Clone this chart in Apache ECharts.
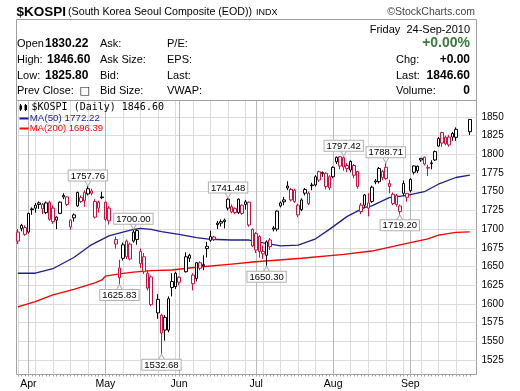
<!DOCTYPE html>
<html><head><meta charset="utf-8">
<script src="https://cdn.jsdelivr.net/npm/echarts@6/dist/echarts.min.js"></script>
<style>html,body{margin:0;padding:0;background:#fff}#c{width:520px;height:391px}</style>
</head><body><div id="c"></div>
<script>
// ---- data ----
const year = 2010;
const dates = ['03-29','03-30','03-31','04-01','04-02','04-05','04-06','04-07','04-08','04-09',
'04-12','04-13','04-14','04-15','04-16','04-19','04-20','04-21','04-22','04-23',
'04-26','04-27','04-28','04-29','04-30','05-03','05-04','05-05','05-06','05-07',
'05-10','05-11','05-12','05-13','05-14','05-17','05-18','05-19','05-20','05-21',
'05-24','05-25','05-26','05-27','05-28','05-31','06-01','06-02','06-03','06-04',
'06-07','06-08','06-09','06-10','06-11','06-14','06-15','06-16','06-17','06-18',
'06-21','06-22','06-23','06-24','06-25','06-28','06-29','06-30','07-01','07-02',
'07-05','07-06','07-07','07-08','07-09','07-12','07-13','07-14','07-15','07-16',
'07-19','07-20','07-21','07-22','07-23','07-26','07-27','07-28','07-29','07-30',
'08-02','08-03','08-04','08-05','08-06','08-09','08-10','08-11','08-12','08-13',
'08-16','08-17','08-18','08-19','08-20','08-23','08-24','08-25','08-26','08-27',
'08-30','08-31','09-01','09-02','09-03','09-06','09-07','09-08','09-09','09-10',
'09-13','09-14','09-15','09-16','09-17','09-20','09-21','09-22','09-23','09-24'];
const prevClose0 = 1700;
const opens = [1684,1705,1702,1696,1726,1728,1735,1733,1722,1736,
1728,1716,1721,1745,1743,1712,1715,1731,1737,1749,
1747,1751,1716,1736,1742,1736,1728,null,1680,1635,
1661,1684,1680,1684,1686,1670,1663,1621,1636,null,
1588,1585,1565,1565,1630,1623,1635.5,null,1643,1661,
1627,1634,1655,1651,1677,1685,1686,1708,1710,1710,
1728,1723,1722,1722,1721,1736.5,1736,1677.5,1694,1690,
1670,1665,1685.5,1700,1700,1731,1739,1755,1753,1752,
1719,1726,1753,1748,1758,1759,1776.7,1774.5,1774.6,1770,
1770,1796,1796.8,1795.5,1785,1779,1785,1777,1732,1732,
1735,1737,1763,1763.4,1777,1782.5,1757,1746.5,1745,1723.3,
1747.8,1747.8,1751.4,1784.4,1784,1794.6,1796,1782.5,1787.5,1792.4,
1811,1829,1823,1823,1823,1822.7,null,null,null,1830.22];
const highs = [1700,1707,1705,1722,1729,1735,1737,1735,1737,1738,
1732,1717,1737,1748,1744,1713,1721,1750,1745,1752,
1757.76,1754,1740,1738,1750,1737,1731,null,1690,1659,
1682,1686,1682,1700.00,1699.5,1674,1668,1645,1638,null,
1613,1587,1585,1610,1641,1643,1637,null,1669,1667,
1641,1656,1657,1665,1683,1698,1691,1711,1713,1714,
1741.48,1733,1729,1741,1733,1739,1737,1701,1696,1692,
1678,1685,1688,1704,1725,1737,1743,1764,1755,1754,
1734,1741,1755,1750,1762,1772,1778,1777,1776,1772,
1784,1797,1797,1797.42,1788,1792,1787,1778,1735,1747,
1748,1758,1767,1783,1779,1788.71,1766,1749,1747,1733,
1765,1748,1768,1785,1785,1795,1797,1786,1792,1805,
1823,1830,1825,1826,1830,1836,null,null,null,1846.60];
const lows = [1680,1697,1691,1694,1719,1722,1727,1720,1720,1711,
1707,1700,1720,1740,1731,1699,1710,1730,1735,1730,
1745,1745,1714,1722,1740,1711,1706,null,1674,1625.83,
1658,1660,1658,1682,1679,1648,1640,1618,1597,null,
1580,1532.68,1551,1562,1610,1620,1625,null,1642,1656,
1618,1630,1645,1645,1662,1683,1684,1700,1703.5,1701,
1725,1721,1720,1720,1719,1726,1703,1676,1668,1662,
1660,1650.30,1672,1697,1697,1729,1732,1752,1737,1735,
1716,1724,1745,1732,1752,1757,1763,1770,1753,1752,
1768,1787,1780,1778,1776,1776,1768,1754,1720,1728,
1717,1735,1760,1761,1765,1766,1748,1732,1730,1719.20,
1745,1736.6,1749,1773,1775,1790,1785,1771,1780,1791,
1810,1810,1812,1810,1818,1818,null,null,null,1825.80];
const closes = [1696,1701,1693,1721,1727,1732,1733,1727,1735,1713,
1710,1712,1736,1743,1733,1703,1719,1749,1742,1738,
1754,1748,1737,1728,1743,1713,1711,null,1686,1648,
1679,1663,1660,1696,1698,1654,1643,1641,1599,null,
1606,1561,1582,1607,1622,1641,1629,null,1663,1665,
1638.5,1655,1647.6,1652.5,1674,1690,1689.5,1706,1708,1712,
1740,1730,1727.7,1740,1732,1733,1705.5,1699.7,1672,1670,
1667,1683,1676.5,1701.5,1724,1735,1736.5,1757.6,1739,1737,
1732,1739,1748,1734,1759,1770,1765.6,1775.5,1757,1755,
1782.6,1790,1784.4,1783,1781,1790.5,1772,1757,1723.5,1745.6,
1728,1756,1764.3,1781,1769,1767.5,1761,1734.4,1733,1730.9,
1761,1742.5,1766.5,1776,1778,1792.4,1787,1781.5,1788.5,1803.6,
1821,1815,1814,1812.5,1828,1833.4,null,null,null,1846.60];
// moving averages at selected trading-day positions
const ma50Idx = [0,5,10,16,21,26,30,33,35,38,41,46,51,55,61,66,70,75,80,85,89,94,99,101,106,111,116,120,125,129];
const ma50Val = [1641,1641,1647,1662,1679,1691,1696,1699.5,1701,1699.5,1696.5,1693,1688.5,1686.4,1685.4,1685.4,1681.5,1677.5,1678.7,1687,1700,1717,1729,1731,1742,1745,1750,1760,1769,1772.22];
const ma200Idx = [0,5,10,16,22,24,25,29,33,38,44,51,61,67,81,93,101,111,117,120,125,129];
const ma200Val = [1596,1603,1612,1619.5,1628,1632,1637,1640,1642.6,1644.4,1645.3,1649,1653.3,1656,1661,1666.3,1670.7,1681,1687,1692,1695.7,1696.39];
const yTicks = [1525,1550,1575,1600,1625,1650,1675,1700,1725,1750,1775,1800,1825,1850];
const monthNames = ['Jan','Feb','Mar','Apr','May','Jun','Jul','Aug','Sep','Oct','Nov','Dec'];
const annotations = [{i:20,k:'high'},{i:33,k:'high'},{i:29,k:'low'},{i:41,k:'low'},{i:60,k:'high'},{i:71,k:'low'},{i:93,k:'high'},{i:105,k:'high'},{i:109,k:'low'}];

// ---- derived ----
const dayObj = dates.map(d => new Date(Date.UTC(year, +d.slice(0,2)-1, +d.slice(3,5))));
const allIdx = dates.map((d,i)=>i);
const mondays = allIdx.filter(i => dayObj[i].getUTCDay() === 1);
const monthStarts = allIdx.filter(i => i > 0 && dayObj[i].getUTCMonth() !== dayObj[i-1].getUTCMonth());

const RED = '#cc1040', BLK = '#000000';
const candleData = [];
let prev = prevClose0;
for (let i = 0; i < dates.length; i++) {
  if (opens[i] == null) continue;
  const c = closes[i];
  const col = c >= prev ? BLK : RED;
  candleData.push({value:[i, opens[i], c, lows[i], highs[i]],
    itemStyle:{color:'#ffffff', color0:col, borderColor:col, borderColor0:col}});
  prev = c;
}
const ma50 = ma50Idx.map((x,k)=>[x, ma50Val[k]]);
const ma200 = ma200Idx.map((x,k)=>[x, ma200Val[k]]);

const markData = annotations.map(a => {
  const up = a.k === 'high';
  const v = up ? highs[a.i] : lows[a.i];
  return {
    coord:[a.i, v], symbol:'triangle', symbolSize:[7,6], symbolRotate: up ? 180 : 0,
    symbolOffset:[0, up ? -3 : 3],
    itemStyle:{color:'#fff', borderColor:'#b0b0b0', borderWidth:1},
    label:{show:true, position: up ? 'top' : 'bottom', distance:-1, formatter: v.toFixed(2),
      fontFamily:'Liberation Sans', fontSize:9.5, color:'#000', backgroundColor:'#fff',
      borderColor:'#b0b0b0', borderWidth:1, padding:[1,2,0,2], lineHeight:9}
  };
});

// ---- layout constants ----
const GL = 16.5, GT = 100.5, GW = 460, GH = 274;
const X0 = 17.79, DX = 3.5046;
const X_MIN = (GL - X0)/DX, X_MAX = (GL + GW - X0)/DX;
const Y_REF = 1800, Y_REF_PX = 154.3, PX_PER = 0.748;
const Y_MAX = Y_REF + (Y_REF_PX - GT)/PX_PER, Y_MIN = Y_REF - (GT + GH - Y_REF_PX)/PX_PER;

function T(text, x, y, font, fill, align) {
  return {type:'text', x:x, y:y, z:100, silent:true,
    style:{text:text, font:font, fill:fill||'#000', textAlign:align||'left', align:align||'left',
      textVerticalAlign:'middle', verticalAlign:'middle'}};
}
const F = '"Liberation Sans", Arial, sans-serif';
const graphics = [
  {type:'rect', z:1, silent:true, shape:{x:16.5, y:19.5, width:460, height:81}, style:{fill:'none', stroke:'#a0a0a0', lineWidth:1}},
  T('$KOSPI', 16.5, 12.5, 'bold 13.5px '+F),
  T('(South Korea Seoul Composite (EOD))', 68, 12.5, '10.7px '+F),
  T('INDX', 256, 12.5, '9px '+F),
  T('\u00a9StockCharts.com', 475, 12.5, '10.5px '+F, '#444', 'right'),
  T('Friday  24-Sep-2010', 470, 29.5, '11px '+F, '#000', 'right'),
  T('Open', 17, 43.5, '11px '+F), T('1830.22', 45, 43.5, 'bold 12px '+F),
  T('High:', 17, 60, '11px '+F), T('1846.60', 47, 60, 'bold 12px '+F),
  T('Low:', 17, 76, '11px '+F), T('1825.80', 45, 76, 'bold 12px '+F),
  T('Prev Close:', 17, 91, '11px '+F), T('\u25a1', 79.5, 91, '11px "DejaVu Sans"'),
  T('Ask:', 100, 43.5, '11px '+F), T('Ask Size:', 100, 60, '11px '+F),
  T('Bid:', 100, 76, '11px '+F), T('Bid Size:', 100, 91, '11px '+F),
  T('P/E:', 167, 43.5, '11px '+F), T('EPS:', 167, 60, '11px '+F),
  T('Last:', 167, 76, '11px '+F), T('VWAP:', 167, 91, '11px '+F),
  T('+0.00%', 470, 43.5, 'bold 14px '+F, '#3a7a3a', 'right'),
  T('Chg:', 396, 60, '11px '+F), T('+0.00', 470, 60, 'bold 12px '+F, '#000', 'right'),
  T('Last:', 396, 76, '11px '+F), T('1846.60', 470, 76, 'bold 12px '+F, '#000', 'right'),
  T('Volume:', 396, 91, '11px '+F), T('0', 470, 91, 'bold 12px '+F, '#000', 'right'),
  // legend
  {type:'line', z:100, silent:true, shape:{x1:20.5, y1:104, x2:20.5, y2:111}, style:{stroke:'#000', lineWidth:1}},
  {type:'rect', z:100, silent:true, shape:{x:19.5, y:105.5, width:2.5, height:4}, style:{fill:'#000'}},
  {type:'line', z:100, silent:true, shape:{x1:25.5, y1:104, x2:25.5, y2:111}, style:{stroke:'#000', lineWidth:1}},
  {type:'rect', z:100, silent:true, shape:{x:24.5, y:105, width:2.5, height:5}, style:{fill:'#000'}},
  T('$KOSPI (Daily) 1846.60', 31.5, 107.5, '10px "DejaVu Sans Mono"'),
  {type:'line', z:100, silent:true, shape:{x1:19.5, y1:118.5, x2:28.5, y2:118.5}, style:{stroke:'#1e1e8c', lineWidth:2}},
  T('MA(50) 1772.22', 29.7, 118.5, '9.8px '+F, '#1e1e8c'),
  {type:'line', z:100, silent:true, shape:{x1:19.5, y1:128.5, x2:28.5, y2:128.5}, style:{stroke:'#ff0000', lineWidth:2}},
  T('MA(200) 1696.39', 29.7, 128.5, '9.5px '+F, '#ff0000')
];

const xBase = {type:'value', min:X_MIN, max:X_MAX, position:'bottom', gridIndex:0,
  axisLine:{show:false}, axisLabel:{show:false}, axisTick:{show:false}, splitLine:{show:false}};

const option = {
  animation:false,
  backgroundColor:'#fff',
  grid:{left:GL, top:GT, width:GW, height:GH, show:true, borderColor:'#a0a0a0', borderWidth:1, containLabel:false, outerBoundsMode:'none'},
  xAxis:[
    Object.assign({}, xBase, {axisTick:{show:false, customValues:mondays}, splitLine:{show:true, lineStyle:{color:'#dcdcdc', width:1}}}),
    Object.assign({}, xBase, {axisTick:{show:false, customValues:monthStarts},
      splitLine:{show:true, lineStyle:{color:'#b8b8b8', width:1}},
      axisLabel:{show:true, customValues:monthStarts, margin:4, fontFamily:F, fontSize:10.5, color:'#000',
        formatter:(v)=>monthNames[dayObj[Math.round(v)].getUTCMonth()]}}),
    Object.assign({}, xBase, {axisTick:{show:true, customValues:allIdx, length:2, lineStyle:{color:'#a0a0a0', width:1}}})
  ],
  yAxis:{type:'value', position:'right', min:Y_MIN, max:Y_MAX,
    axisLine:{show:false}, axisTick:{show:false, customValues:yTicks},
    axisLabel:{customValues:yTicks, margin:5, fontFamily:F, fontSize:10, color:'#000', formatter:(v)=>String(Math.round(v))},
    splitLine:{show:true, lineStyle:{color:'#dcdcdc', width:1}}},
  graphic:graphics,
  series:[
    {type:'line', xAxisIndex:0, data:ma200, symbol:'none', smooth:false, z:1, lineStyle:{color:'#ff0000', width:1.3}},
    {type:'line', xAxisIndex:0, data:ma50, symbol:'none', smooth:false, z:1, lineStyle:{color:'#1e1e8c', width:1.3}},
    {type:'candlestick', xAxisIndex:0, data:candleData, barWidth:3, z:3,
      itemStyle:{borderWidth:1},
      markPoint:{silent:true, animation:false, data:markData}}
  ]
};
const chart = echarts.init(document.getElementById('c'), null, {renderer:'canvas'});
chart.setOption(option);
</script>
</body></html>
